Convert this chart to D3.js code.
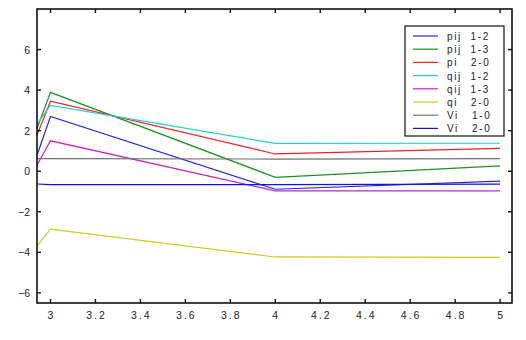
<!DOCTYPE html>
<html>
<head>
<meta charset="utf-8">
<script src="https://cdn.jsdelivr.net/npm/d3@7"></script>
<style>
  body { margin: 0; background: #fff; }
  text { font-family: "Liberation Sans", Arial, sans-serif; }
</style>
</head>
<body>
<div id="chart"></div>
<script>
// x positions shared by every series
const xs = [2.94, 3.0, 4.0, 5.0];

const pij12 = [0.79, 2.70, -0.89, -0.49];
const pij13 = [2.10, 3.89, -0.30, 0.26];
const pi20  = [1.78, 3.45, 0.85, 1.13];
const qij12 = [2.32, 3.24, 1.37, 1.38];
const qij13 = [0.30, 1.50, -0.97, -0.97];
const qi20  = [-3.70, -2.86, -4.23, -4.25];
const vi10  = [0.62, 0.62, 0.60, 0.62];
const vi20  = [-0.63, -0.66, -0.66, -0.64];

const seriesNames = ["pij  1-2", "pij  1-3", "pi   2-0", "qij  1-2", "qij  1-3", "qi   2-0", "Vi   1-0", "Vi   2-0"];
const seriesColors = ["#2424e6", "#1f8f1f", "#f02020", "#22d0d0", "#c424c4", "#cccc22", "#707070", "#1414d0"];
const seriesValues = [pij12, pij13, pi20, qij12, qij13, qi20, vi10, vi20];

const xTicks = [3, 3.2, 3.4, 3.6, 3.8, 4, 4.2, 4.4, 4.6, 4.8, 5];
const yTicks = [-6, -4, -2, 0, 2, 4, 6];

const width = 526, height = 340;
const margin = { top: 9, right: 14, bottom: 37, left: 37 };

const svg = d3.select("#chart").append("svg")
  .attr("width", width)
  .attr("height", height);

const x = d3.scaleLinear().domain([2.94, 5.053]).range([margin.left, width - margin.right]);
const y = d3.scaleLinear().domain([-6.5, 8]).range([height - margin.bottom, margin.top]);

// lines
const line = d3.line().x((d, i) => x(xs[i])).y(d => y(d));
seriesValues.forEach((vals, i) => {
  svg.append("path")
    .datum(vals)
    .attr("d", line)
    .attr("fill", "none")
    .attr("stroke", seriesColors[i])
    .attr("stroke-width", 1.2);
});

// frame
svg.append("rect")
  .attr("x", margin.left).attr("y", margin.top)
  .attr("width", width - margin.left - margin.right)
  .attr("height", height - margin.top - margin.bottom)
  .attr("fill", "none").attr("stroke", "#111").attr("stroke-width", 1.6);

// inward ticks on all four sides
const tk = 4;
const x0 = margin.left, x1 = width - margin.right, y0 = height - margin.bottom, y1 = margin.top;
xTicks.forEach(t => {
  svg.append("line").attr("x1", x(t)).attr("x2", x(t)).attr("y1", y0).attr("y2", y0 - tk)
    .attr("stroke", "#111").attr("stroke-width", 1.4);
  svg.append("line").attr("x1", x(t)).attr("x2", x(t)).attr("y1", y1).attr("y2", y1 + tk)
    .attr("stroke", "#111").attr("stroke-width", 1.4);
  svg.append("text").attr("x", x(t)).attr("y", y0 + 16)
    .attr("text-anchor", "middle").attr("font-size", 10.5).attr("fill", "#222")
    .attr("letter-spacing", 2).attr("dx", 1)
    .text(t);
});
yTicks.forEach(t => {
  svg.append("line").attr("x1", x0).attr("x2", x0 + tk).attr("y1", y(t)).attr("y2", y(t))
    .attr("stroke", "#111").attr("stroke-width", 1.4);
  svg.append("line").attr("x1", x1).attr("x2", x1 - tk).attr("y1", y(t)).attr("y2", y(t))
    .attr("stroke", "#111").attr("stroke-width", 1.4);
  svg.append("text").attr("x", x0 - 7).attr("y", y(t) + 4)
    .attr("text-anchor", "end").attr("font-size", 10.5).attr("fill", "#222")
    .text(d3.format("")(t).replace("-", "-"));
});

// legend
const lg = svg.append("g").attr("transform", "translate(405,26)");
lg.append("rect").attr("width", 99).attr("height", 110)
  .attr("fill", "#fff").attr("stroke", "#111").attr("stroke-width", 1.2);
seriesNames.forEach((name, i) => {
  const yy = 10 + i * 13.2;
  lg.append("line").attr("x1", 8).attr("x2", 33).attr("y1", yy).attr("y2", yy)
    .attr("stroke", seriesColors[i]).attr("stroke-width", 1.2);
  lg.append("text").attr("x", 42).attr("y", yy + 4)
    .attr("font-size", 10).attr("fill", "#222").attr("letter-spacing", 1.6)
    .attr("xml:space", "preserve").style("white-space", "pre")
    .text(name);
});
</script>
</body>
</html>
